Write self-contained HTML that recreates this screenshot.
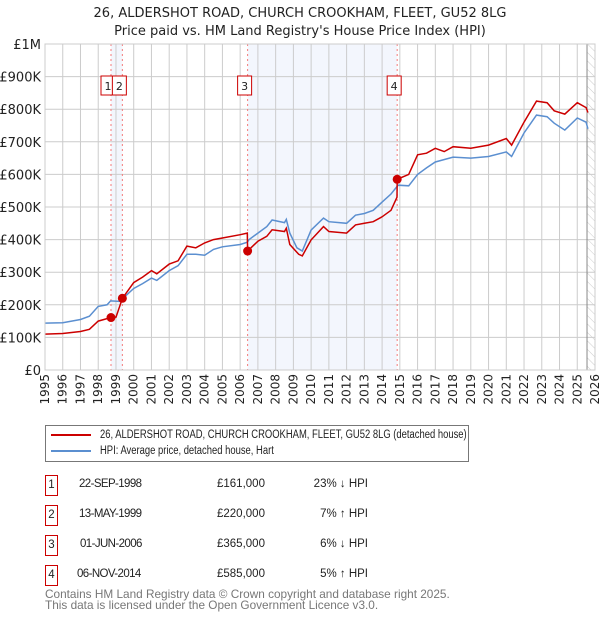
<!DOCTYPE html>
<html><head><meta charset="utf-8"><style>
body{margin:0;background:#fff;font-family:"Liberation Sans","DejaVu Sans",sans-serif;}
svg text{font-family:"DejaVu Sans","Liberation Sans",sans-serif;}
.lg{display:inline-block;transform:scaleX(0.82);transform-origin:left center;white-space:nowrap}
.dt{letter-spacing:-0.6px}
</style></head><body>
<svg id="c" width="600" height="620" xmlns="http://www.w3.org/2000/svg"></svg>
<script>
const hpiX=[1995,1996,1997,1997.5,1998,1998.5,1998.7,1999.3,1999.5,2000,2000.5,2001,2001.3,2002,2002.5,2003,2003.5,2004,2004.5,2005,2006,2006.4,2006.5,2007,2007.5,2007.8,2008.5,2008.6,2008.8,2009.2,2009.5,2010,2010.7,2011,2012,2012.5,2013,2013.5,2014,2014.5,2014.9,2015.5,2016,2016.5,2017,2018,2019,2020,2021,2021.3,2022,2022.7,2023.3,2023.7,2024.3,2025,2025.5,2025.6];
const hpiY=[144,145,155,165,195,200,212,210,225,250,265,282,275,305,320,355,355,352,370,378,385,392,400,420,440,460,452,462,420,375,365,429,466,455,450,475,480,490,515,540,567,565,600,620,638,653,650,655,669,655,727,782,777,757,736,773,760,740];
const redX=[1995,1996,1997,1997.5,1998,1998.72,1999.0,1999.36,2000,2000.5,2001,2001.3,2002,2002.5,2003,2003.5,2004,2004.5,2005,2006,2006.4,2006.42,2007,2007.5,2007.8,2008.5,2008.6,2008.8,2009.3,2009.5,2010,2010.7,2011,2012,2012.5,2013,2013.5,2014,2014.5,2014.84,2014.85,2015.5,2016,2016.5,2017,2017.5,2018,2019,2020,2021,2021.3,2022,2022.7,2023.3,2023.7,2024.3,2025,2025.5,2025.6];
const redY=[110,112,118,125,150,161,162,220,268,285,305,295,325,335,380,375,390,400,405,415,420,365,395,410,430,425,435,385,355,350,399,440,425,420,445,450,455,470,490,530,585,600,660,665,680,670,685,680,690,710,690,760,825,820,795,785,820,805,790];
const saleX=[1998.72,1999.36,2006.42,2014.85];
const saleY=[161,220,365,585];
const saleLabels=["1","2","3","4"];
const yTicks=[0,100,200,300,400,500,600,700,800,900,1000];
const yTickLabels=["£0","£100K","£200K","£300K","£400K","£500K","£600K","£700K","£800K","£900K","£1M"];
const years=[1995,1996,1997,1998,1999,2000,2001,2002,2003,2004,2005,2006,2007,2008,2009,2010,2011,2012,2013,2014,2015,2016,2017,2018,2019,2020,2021,2022,2023,2024,2025,2026];
const L=45,R=595,T=44,B=370;
const sx=v=>L+(v-1995)/31*(R-L);
const sy=v=>B-v/1000*(B-T);
const svg=document.getElementById('c');
const NS='http://www.w3.org/2000/svg';
function el(t,a,p){const e=document.createElementNS(NS,t);for(const k in a)e.setAttribute(k,a[k]);(p||svg).appendChild(e);return e;}
let t=el('text',{x:300,y:17,'text-anchor':'middle','font-size':13,fill:'#222'});t.textContent='26, ALDERSHOT ROAD, CHURCH CROOKHAM, FLEET, GU52 8LG';

t=el('text',{x:300,y:35,'text-anchor':'middle','font-size':13,fill:'#222'});t.textContent="Price paid vs. HM Land Registry's House Price Index (HPI)";

let s=el('rect',{x:sx(saleX[0]),y:T,width:sx(saleX[1])-sx(saleX[0]),height:B-T,fill:'#f3f6fd'});

s=el('rect',{x:sx(saleX[2]),y:T,width:sx(saleX[3])-sx(saleX[2]),height:B-T,fill:'#f3f6fd'});

const defs=el('defs',{});
const pat=el('pattern',{id:'h',width:6,height:6,patternUnits:'userSpaceOnUse',patternTransform:'rotate(-45)'},defs);
el('line',{x1:0,y1:0,x2:0,y2:6,stroke:'#ccc','stroke-width':1},pat);
s=el('rect',{x:sx(2025.55),y:T,width:R-sx(2025.55),height:B-T,fill:'url(#h)'});

yTicks.forEach((v,i)=>{
 const g=el('line',{x1:L,x2:R,y1:sy(v),y2:sy(v),stroke:'#ccc'});
 
 const tx=el('text',{x:L-4,y:sy(v)+5,'text-anchor':'end','font-size':13,fill:'#222'});tx.textContent=yTickLabels[i];
 
});
years.forEach(y=>{
 const g=el('line',{x1:sx(y),x2:sx(y),y1:T,y2:B,stroke:'#ccc'});
 
 const tx=el('text',{x:0,y:0,'text-anchor':'end','font-size':12,fill:'#222',transform:`translate(${sx(y)+4},${B+4}) rotate(-90)`});tx.textContent=y;
 
});
el('line',{x1:sx(2025.55),x2:sx(2025.55),y1:T,y2:B,stroke:'#888'});
saleX.forEach((v,i)=>{
 const d=el('line',{x1:sx(v),x2:sx(v),y1:T,y2:B,stroke:'#f47a7a','stroke-dasharray':'2,3'});
 
});
const path=(X,Y)=>X.map((x,i)=>(i?'L':'M')+sx(x).toFixed(1)+','+sy(Y[i]).toFixed(1)).join('');
let p=el('path',{d:path(hpiX,hpiY),fill:'none',stroke:'#5b8fd0','stroke-width':1.5});

p=el('path',{d:path(redX,redY),fill:'none',stroke:'#cc0000','stroke-width':1.5});

saleX.forEach((v,i)=>{
 const c=el('circle',{cx:sx(v),cy:sy(saleY[i]),r:4.5,fill:'#cc0000'});
 
 const bx=sx(v)-10;
 const r=el('rect',{x:bx,y:76,width:14,height:19,fill:'#fff',stroke:'#cc0000'});
 
 const tx=el('text',{x:bx+7,y:90,'text-anchor':'middle','font-size':11,fill:'#222'});tx.textContent=saleLabels[i];
 
});
el('rect',{x:L,y:T,width:R-L,height:B-T,fill:'none',stroke:'#ccc'});
</script>
<div style="position:absolute;left:45px;top:425px;width:422px;height:35px;border:1px solid #777;font-size:11.5px;color:#222;">
 <div style="position:absolute;left:5px;top:3px;white-space:nowrap"><span style="display:inline-block;width:40px;height:2px;background:#cc0000;vertical-align:middle;margin-right:9px"></span><span class="lg">26, ALDERSHOT ROAD, CHURCH CROOKHAM, FLEET, GU52 8LG (detached house)</span></div>
 <div style="position:absolute;left:5px;top:19px;white-space:nowrap"><span style="display:inline-block;width:40px;height:2px;background:#5b8fd0;vertical-align:middle;margin-right:9px"></span><span class="lg">HPI: Average price, detached house, Hart</span></div>
</div>
<div style="position:absolute;left:45px;top:475px;font-size:11.5px;color:#222;">
 <div style="position:absolute;top:0;height:20px;width:400px"><span style="position:absolute;left:0;width:11px;height:19px;border:1px solid #cc0000;text-align:center;line-height:19px">1</span><span class="dt" style="position:absolute;left:34px;top:3px;white-space:nowrap">22-SEP-1998</span><span style="position:absolute;left:172px;top:3px">£161,000</span><span style="position:absolute;left:250px;top:3px;width:73px;text-align:right;white-space:nowrap">23% ↓ HPI</span></div>
 <div style="position:absolute;top:30px;height:20px;width:400px"><span style="position:absolute;left:0;width:11px;height:19px;border:1px solid #cc0000;text-align:center;line-height:19px">2</span><span class="dt" style="position:absolute;left:34px;top:3px;white-space:nowrap">13-MAY-1999</span><span style="position:absolute;left:172px;top:3px">£220,000</span><span style="position:absolute;left:250px;top:3px;width:73px;text-align:right;white-space:nowrap">7% ↑ HPI</span></div>
 <div style="position:absolute;top:60px;height:20px;width:400px"><span style="position:absolute;left:0;width:11px;height:19px;border:1px solid #cc0000;text-align:center;line-height:19px">3</span><span class="dt" style="position:absolute;left:35px;top:3px;white-space:nowrap">01-JUN-2006</span><span style="position:absolute;left:172px;top:3px">£365,000</span><span style="position:absolute;left:250px;top:3px;width:73px;text-align:right;white-space:nowrap">6% ↓ HPI</span></div>
 <div style="position:absolute;top:90px;height:20px;width:400px"><span style="position:absolute;left:0;width:11px;height:19px;border:1px solid #cc0000;text-align:center;line-height:19px">4</span><span class="dt" style="position:absolute;left:32px;top:3px;white-space:nowrap">06-NOV-2014</span><span style="position:absolute;left:172px;top:3px">£585,000</span><span style="position:absolute;left:250px;top:3px;width:73px;text-align:right;white-space:nowrap">5% ↑ HPI</span></div>
</div>
<div style="position:absolute;left:45px;top:589px;font-size:11.8px;line-height:11px;color:#777;white-space:nowrap">Contains HM Land Registry data © Crown copyright and database right 2025.<br>This data is licensed under the Open Government Licence v3.0.</div>
</body></html>
